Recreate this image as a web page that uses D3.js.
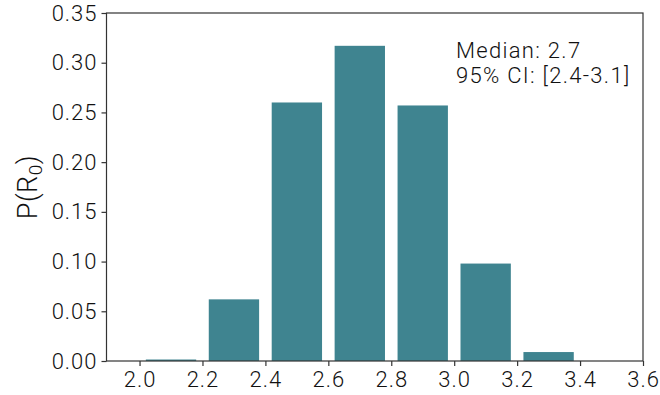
<!DOCTYPE html>
<html>
<head>
<meta charset="utf-8">
<script src="https://cdn.jsdelivr.net/npm/d3@7"></script>
<style>
  body { margin: 0; background: #fff; }
  text { font-family: Roboto, sans-serif; font-weight: 300; fill: #111; }
</style>
</head>
<body>
<div id="chart"></div>
<script>
// R0 bins (centers) and posterior probability
const binCenters = [2.1, 2.3, 2.5, 2.7, 2.9, 3.1, 3.3, 3.5];
const probs = [0.0015, 0.062, 0.26, 0.317, 0.257, 0.098, 0.009, 0.0];
const xTicks = [2.0, 2.2, 2.4, 2.6, 2.8, 3.0, 3.2, 3.4, 3.6];
const yTicks = [0.00, 0.05, 0.10, 0.15, 0.20, 0.25, 0.30, 0.35];
const annotation = ["Median: 2.7", "95% CI: [2.4-3.1]"];

const width = 660, height = 395;
const margin = {top: 13, right: 17, bottom: 34, left: 106.5};
const barWidth = 0.16;

const svg = d3.select("#chart")
    .append("svg")
        .attr("width", width)
        .attr("height", height);

const x = d3.scaleLinear()
    .domain([1.895, 3.6])
    .range([margin.left, width - margin.right]);
const y = d3.scaleLinear()
    .domain([0, 0.35])
    .range([height - margin.bottom, margin.top]);

// bars
svg.selectAll(".bar")
    .data(binCenters)
    .enter()
    .append("rect")
    .attr("class", "bar")
    .attr("x", function(d) { return x(d - barWidth / 2); })
    .attr("width", function(d) { return x(d + barWidth / 2) - x(d - barWidth / 2); })
    .attr("y", function(d, i) { return y(probs[i]); })
    .attr("height", function(d, i) { return y(0) - y(probs[i]); })
    .style("fill", "#3f8490");

// frame
svg.append("rect")
    .attr("x", margin.left)
    .attr("y", margin.top)
    .attr("width", width - margin.right - margin.left)
    .attr("height", height - margin.bottom - margin.top)
    .style("fill", "none")
    .style("stroke", "#333")
    .style("stroke-width", 1.2);

// axes
const xAxis = svg.append("g")
    .attr("transform", "translate(0," + y(0) + ")")
    .call(d3.axisBottom(x).tickValues(xTicks).tickFormat(d3.format(".1f")).tickSize(5).tickPadding(5));
const yAxis = svg.append("g")
    .attr("transform", "translate(" + margin.left + ",0)")
    .call(d3.axisLeft(y).tickValues(yTicks).tickFormat(d3.format(".2f")).tickSize(5).tickPadding(4));

[xAxis, yAxis].forEach(function(a) {
    a.select(".domain").remove();
    a.selectAll(".tick line").style("stroke", "#333").style("stroke-width", 1.2);
    a.selectAll(".tick text")
        .style("font-family", "Roboto, sans-serif")
        .style("font-size", "22px")
        .style("letter-spacing", "1px")
        .style("fill", "#111");
});

// y label
const ylab = svg.append("text")
    .attr("transform", "translate(37," + ((margin.top + height - margin.bottom) / 2) + ") rotate(-90)")
    .style("text-anchor", "middle")
    .style("font-size", "27px")
    .style("letter-spacing", "0.5px");
ylab.append("tspan").text("P(R");
ylab.append("tspan").attr("baseline-shift", "-25%").style("font-size", "19px").text("0");
ylab.append("tspan").text(")");

// annotation
svg.selectAll(".note")
    .data(annotation)
    .enter()
    .append("text")
    .attr("class", "note")
    .attr("x", 456)
    .attr("y", function(d, i) { return 58 + i * 25; })
    .style("font-size", "22px")
    .style("letter-spacing", "1.3px")
    .text(function(d) { return d; });
</script>
</body>
</html>
